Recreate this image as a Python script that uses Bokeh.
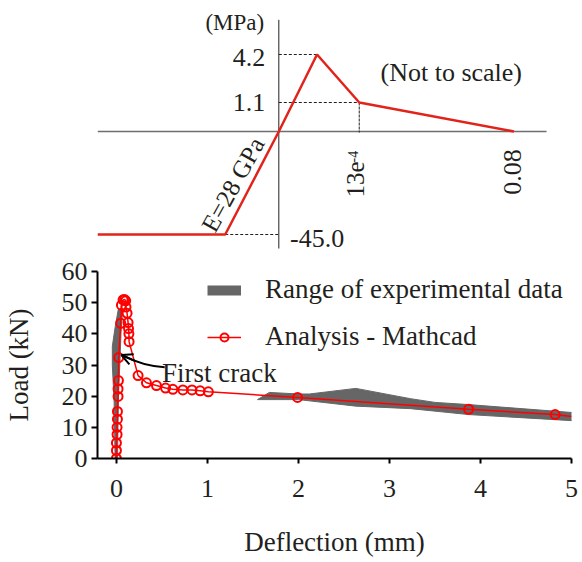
import math
from bokeh.plotting import figure
from bokeh.layouts import column
from bokeh.models import Range1d, Legend, LegendItem, Arrow, OpenHead, FixedTicker
from bokeh.core.properties import value
from bokeh.embed import file_html
from bokeh.resources import INLINE

FONT = "Liberation Serif"
TXT = "#231f20"

# ---------------- Top: schematic tensile/compressive law (not to scale) ----------------
# schematic positions (not to scale) of the constitutive curve
curve_x = [-181.7, -53.7, 0.0, 38.3, 80.6, 235.6]
curve_y = [-103.0, -103.0, 0.0, 77.0, 29.0, 0.0]
stress_labels = ["4.2", "1.1", "-45.0"]
strain_labels = ["13e", "0.08"]
modulus_label = "E=28 GPa"

# ---------------- Bottom: load-deflection ----------------
mathcad_defl = [0, 0, 0, 0.007, 0.007, 0.011, 0.011, 0.018, 0.018, 0.022, 0.025,
                0.047, 0.055, 0.073, 0.09, 0.102, 0.105, 0.117, 0.128, 0.133, 0.137,
                0.139, 0.238, 0.33, 0.44, 0.54, 0.62, 0.73, 0.83, 0.92, 1.01, 1.99,
                3.87, 4.82]
mathcad_load = [0, 2.6, 5.0, 7.7, 10.0, 12.6, 15.1, 19.9, 22.3, 25.0, 32.4,
                43.4, 49.2, 50.9, 51.0, 50.6, 48.6, 46.6, 43.6, 41.7, 40.0,
                37.5, 26.6, 24.3, 23.4, 22.6, 22.2, 22.0, 22.0, 21.7, 21.4, 19.6,
                15.8, 14.1]
mathcad_end_defl = 5.0
mathcad_end_load = 13.5

exp_pre_defl = [-0.015, -0.025, -0.045, -0.045, -0.015, 0.02, 0.05, 0.065, 0.05, 0.04, 0.022, 0.012]
exp_pre_load = [0, 18, 30, 36, 42, 47.8, 48.2, 46.5, 40, 32, 20, 0]
exp_post_defl = [1.55, 1.68, 2.0, 2.12, 2.63, 3.23, 3.5, 3.87, 5.03,
                 5.03, 3.87, 3.23, 2.63, 2.0]
exp_post_load = [18.9, 21.2, 20.7, 20.7, 22.5, 19.2, 18.0, 17.3, 14.7,
                 12.1, 14.1, 16.0, 16.8, 18.9]

x_ticks = [0, 1, 2, 3, 4, 5]
y_ticks = [0, 10, 20, 30, 40, 50, 60]

W = 578
LEFT = 96
RIGHT = 7

# ======================= top figure =======================
p1 = figure(width=W, height=253, x_range=Range1d(-181.7, 293.3), y_range=Range1d(-122, 131),
            x_axis_type=None, y_axis_type=None, output_backend="svg", toolbar_location=None,
            min_border_left=LEFT, min_border_right=RIGHT, min_border_top=0, min_border_bottom=0)
p1.outline_line_color = None
p1.grid.visible = False

# axes of the schematic
p1.segment(x0=[curve_x[0]], y0=[0], x1=[curve_x[-1] + 32.7], y1=[0], line_color="#6d6e70", line_width=1.5)
p1.segment(x0=[0], y0=[111.7], x1=[0], y1=[-117], line_color="#231f20", line_width=1)

# dashed guide lines
p1.segment(x0=[0, 0, curve_x[1]], y0=[curve_y[3], curve_y[4], curve_y[1]],
           x1=[curve_x[3], curve_x[4], 0], y1=[curve_y[3], curve_y[4], curve_y[1]],
           line_color="#231f20", line_width=1, line_dash="3 2")
p1.segment(x0=[curve_x[4]], y0=[curve_y[4]], x1=[curve_x[4]], y1=[-1],
           line_color="#231f20", line_width=1, line_dash="3 1")

p1.line(curve_x, curve_y, line_color="#e2231a", line_width=2.5)

# labels
p1.text(x=[-14.7], y=[109.3], text=["(MPa)"], text_font=value(FONT), text_font_size="23px",
        text_color=TXT, text_align="right", text_baseline="middle")
p1.text(x=[-13.7, -13.7], y=[curve_y[3] - 3, curve_y[4] + 0.5], text=stress_labels[:2],
        text_font=value(FONT), text_font_size="26px", text_color=TXT,
        text_align="right", text_baseline="middle")
p1.text(x=[11.3], y=[curve_y[1] - 4], text=[stress_labels[2]], text_font=value(FONT),
        text_font_size="26px", text_color=TXT, text_align="left", text_baseline="middle")
p1.text(x=[172.8], y=[59.3], text=["(Not to scale)"], text_font=value(FONT), text_font_size="26px",
        text_color=TXT, text_align="center", text_baseline="middle")
p1.text(x=[curve_x[4] - 3.3], y=[-66], text=[strain_labels[0]], angle=math.pi / 2,
        text_font=value(FONT), text_font_size="25px", text_color=TXT,
        text_align="left", text_baseline="middle")
p1.text(x=[curve_x[4] - 6], y=[-31], text=["-4"], angle=math.pi / 2,
        text_font=value(FONT), text_font_size="14px", text_color=TXT,
        text_align="left", text_baseline="middle")
p1.text(x=[curve_x[5] - 1.6], y=[-40.5], text=[strain_labels[1]], angle=math.pi / 2,
        text_font=value(FONT), text_font_size="26px", text_color=TXT,
        text_align="center", text_baseline="middle")
p1.text(x=[-46], y=[-53], text=[modulus_label], angle=math.radians(61),
        text_font=value(FONT), text_font_size="25px", text_color=TXT,
        text_align="center", text_baseline="middle")

# ======================= bottom figure =======================
p2 = figure(width=W, height=306, x_range=Range1d(-0.208, 5.0), y_range=Range1d(0, 60),
            output_backend="svg", toolbar_location=None,
            min_border_left=LEFT, min_border_right=RIGHT, min_border_top=18, min_border_bottom=97)
p2.outline_line_color = None
p2.grid.visible = False

exp_color = "#666666"
p2.patch(exp_pre_defl, exp_pre_load, fill_color=exp_color, line_color=exp_color, line_width=1)
p2.patch(exp_post_defl, exp_post_load, fill_color=exp_color, line_color=exp_color, line_width=1)

r_line = p2.line(mathcad_defl + [mathcad_end_defl], mathcad_load + [mathcad_end_load],
                 line_color="#ff0000", line_width=1.5)
r_pts = p2.scatter(mathcad_defl, mathcad_load, marker="circle", size=9, fill_color=None,
                   line_color="#ff0000", line_width=2)

# legend proxy for the experimental range (hidden on the plot, shown in the legend)
r_exp_proxy = p2.line(exp_post_defl, exp_post_load, line_color=exp_color, line_width=10,
                      visible=False)

legend = Legend(items=[LegendItem(label="Range of experimental data", renderers=[r_exp_proxy]),
                       LegendItem(label="Analysis - Mathcad", renderers=[r_line, r_pts])],
                location=(110, 106), orientation="vertical",
                glyph_width=34, glyph_height=20, label_standoff=24, spacing=16,
                padding=0, margin=0, border_line_color=None, background_fill_alpha=0,
                inactive_fill_alpha=0,
                label_text_font=FONT, label_text_font_size="27px", label_text_color=TXT)
p2.add_layout(legend)

# annotation "First crack"
p2.text(x=[0.5], y=[27.4], text=["First crack"], text_font=value(FONT), text_font_size="27px",
        text_color=TXT, text_align="left", text_baseline="middle")
p2.quadratic(x0=[0.53], y0=[29.3], x1=[0.07], y1=[33.0], cx=[0.3], cy=[29.6],
             line_color="black", line_width=2)
p2.add_layout(Arrow(end=OpenHead(size=11, line_width=2, line_color="black"),
                    line_color="black", line_width=2,
                    x_start=0.2, y_start=31.4, x_end=0.055, y_end=33.2))

p2.xaxis.ticker = FixedTicker(ticks=x_ticks)
p2.yaxis.ticker = FixedTicker(ticks=y_ticks)
p2.xaxis.axis_label = "Deflection (mm)"
p2.yaxis.axis_label = "Load (kN)"
for ax in (p2.xaxis[0], p2.yaxis[0]):
    ax.axis_line_color = "black"
    ax.axis_line_width = 2
    ax.major_tick_line_color = "black"
    ax.major_tick_line_width = 2
    ax.major_tick_in = 0
    ax.minor_tick_line_color = None
    ax.major_label_text_font = FONT
    ax.major_label_text_font_size = "26px"
    ax.major_label_text_color = TXT
    ax.axis_label_text_font = FONT
    ax.axis_label_text_font_size = "27px"
    ax.axis_label_text_font_style = "normal"
    ax.axis_label_text_color = TXT
p2.xaxis.major_tick_out = 5
p2.yaxis.major_tick_out = 6
p2.xaxis.major_label_standoff = 16
p2.xaxis.axis_label_standoff = 27
p2.yaxis.major_label_standoff = 4
p2.yaxis.axis_label_standoff = 25

layout = column(p1, p2)
open("out.html", "w").write(file_html(layout, INLINE))
